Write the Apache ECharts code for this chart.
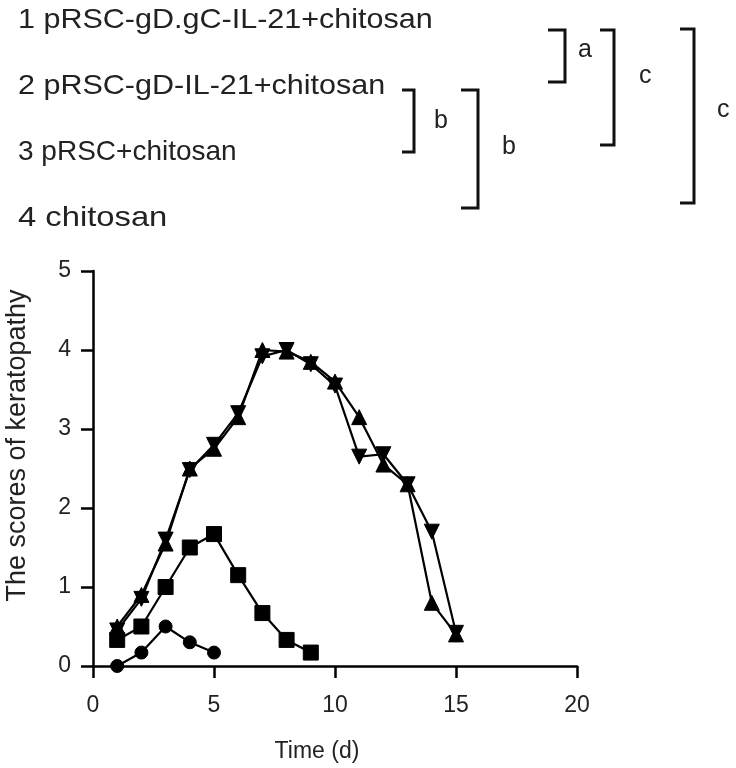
<!DOCTYPE html>
<html>
<head>
<meta charset="utf-8">
<script src="https://cdn.jsdelivr.net/npm/echarts@6/dist/echarts.min.js"></script>
<style>
  html, body { margin: 0; padding: 0; background: #fff; }
  #chart { width: 736px; height: 768px; }
</style>
</head>
<body>
<div id="chart"></div>
<script>
// days after infection
const days = [1, 2, 3, 4, 5, 6, 7, 8, 9, 10, 11, 12, 13, 14, 15]
// keratopathy scores
const circleScores = [0, 0.17, 0.5, 0.3, 0.17]
const squareScores = [0.33, 0.5, 1.0, 1.5, 1.67, 1.15, 0.67, 0.33, 0.17]
const upScores = [0.5, 0.9, 1.55, 2.5, 2.75, 3.15, 4.0, 3.98, 3.85, 3.6, 3.15, 2.55, 2.3, 0.8, 0.4]
const downScores = [0.45, 0.85, 1.6, 2.48, 2.8, 3.2, 3.92, 4.0, 3.82, 3.55, 2.65, 2.68, 2.3, 1.7, 0.42]

const groupLabels = [
  '1 pRSC-gD.gC-IL-21+chitosan',
  '2 pRSC-gD-IL-21+chitosan',
  '3 pRSC+chitosan',
  '4 chitosan'
]

const pairs = (vals) => vals.map((v, i) => [days[i], v])
const font = 'Liberation Sans, Arial, sans-serif'

const chart = echarts.init(document.getElementById('chart'))

// bracket: x of vertical bar, top, bottom, tick length, label
const brackets = [
  { x: 565, y1: 30, y2: 82, w: 17, label: 'a', lx: 578, ly: 50 },
  { x: 614, y1: 30, y2: 145, w: 14, label: 'c', lx: 639, ly: 76 },
  { x: 694, y1: 29, y2: 203, w: 14, label: 'c', lx: 717, ly: 110 },
  { x: 414, y1: 90, y2: 152, w: 12, label: 'b', lx: 434, ly: 121 },
  { x: 478, y1: 90, y2: 208, w: 17, label: 'b', lx: 502, ly: 147 }
]
// the printed labels are wider than the font, stretch each to fit
const labelStretch = [1.09, 1.09, 1.0, 1.17]

const graphics = []
groupLabels.forEach((t, i) => {
  graphics.push({
    type: 'text', x: 18, y: 6 + i * 66, scaleX: labelStretch[i],
    style: { text: t, font: '28px ' + font, fill: '#222' }
  })
})
brackets.forEach(b => {
  graphics.push({
    type: 'polyline',
    shape: { points: [[b.x - b.w, b.y1], [b.x, b.y1], [b.x, b.y2], [b.x - b.w, b.y2]] },
    style: { stroke: '#111', lineWidth: 3, fill: null }
  })
  graphics.push({
    type: 'text', x: b.lx, y: b.ly,
    style: { text: b.label, font: '25px ' + font, fill: '#222', textVerticalAlign: 'middle' }
  })
})

const lineSeries = (vals, symbol, size, rotate) => ({
  type: 'line',
  data: pairs(vals),
  symbol: symbol,
  symbolSize: size,
  symbolRotate: rotate || 0,
  showAllSymbol: true,
  lineStyle: { color: '#000', width: 2.2 },
  itemStyle: { color: '#000', borderColor: '#000' },
  emphasis: { disabled: true }
})

const option = {
  animation: false,
  backgroundColor: '#fff',
  grid: { left: 93, right: 159, top: 271, bottom: 102, outerBoundsMode: 'none', containLabel: false },
  xAxis: {
    type: 'value', min: 0, max: 20, interval: 5,
    name: 'Time (d)', nameLocation: 'middle', nameGap: 74,
    nameTextStyle: { fontSize: 23, fontFamily: font, color: '#222', padding: [0, 36, 0, 0] },
    axisLine: { lineStyle: { color: '#000', width: 2.5 } },
    axisTick: { inside: false, length: 12, lineStyle: { color: '#000', width: 2.5 } },
    axisLabel: { fontSize: 23, fontFamily: font, color: '#222', margin: 28 },
    splitLine: { show: false }
  },
  yAxis: {
    type: 'value', min: 0, max: 5, interval: 1,
    name: 'The scores of keratopathy', nameLocation: 'middle', nameGap: 62,
    nameTextStyle: { fontSize: 27, fontFamily: font, color: '#222', padding: [0, 0, 0, 46] },
    axisLine: { show: true, lineStyle: { color: '#000', width: 2.5 } },
    axisTick: { show: true, inside: false, length: 12, lineStyle: { color: '#000', width: 2.5 } },
    axisLabel: { fontSize: 23, fontFamily: font, color: '#222', margin: 22 },
    splitLine: { show: false }
  },
  graphic: graphics,
  series: [
    lineSeries(circleScores, 'circle', 13),
    lineSeries(squareScores, 'rect', 15),
    lineSeries(upScores, 'triangle', 15),
    lineSeries(downScores, 'triangle', 15, 180)
  ]
}

chart.setOption(option)
</script>
</body>
</html>
